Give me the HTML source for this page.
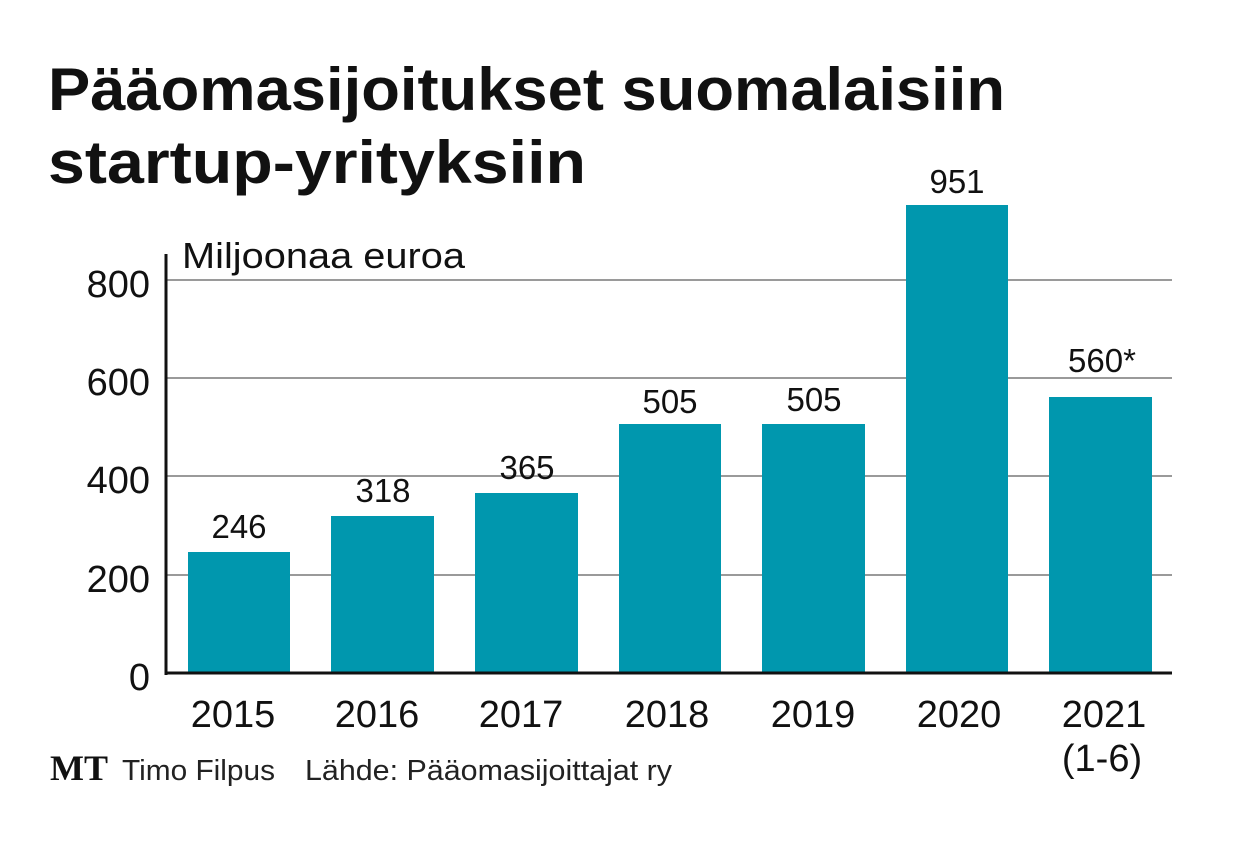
<!DOCTYPE html>
<html><head><meta charset="utf-8"><style>html,body{margin:0;padding:0;background:#fff}svg{display:block}</style></head>
<body>
<svg width="1240" height="854" viewBox="0 0 1240 854" xmlns="http://www.w3.org/2000/svg" font-family="Liberation Sans, DejaVu Sans, sans-serif">
<rect width="1240" height="854" fill="#fff"/>
<text x="48" y="110" font-size="60" font-weight="bold" fill="#111" textLength="957" lengthAdjust="spacingAndGlyphs">Pääomasijoitukset suomalaisiin</text>
<text x="48" y="183" font-size="60" font-weight="bold" fill="#111" textLength="538" lengthAdjust="spacingAndGlyphs">startup-yrityksiin</text>
<g stroke="#9a9a9a" stroke-width="2">
<line x1="166" y1="280" x2="1172" y2="280"/>
<line x1="166" y1="378" x2="1172" y2="378"/>
<line x1="166" y1="476" x2="1172" y2="476"/>
<line x1="166" y1="575" x2="1172" y2="575"/>
</g>
<rect x="166" y="236" width="310" height="38" fill="#fff"/>
<text x="182" y="268" font-size="36" fill="#111" textLength="283" lengthAdjust="spacingAndGlyphs">Miljoonaa euroa</text>
<g fill="#0097ae">
<rect x="188" y="552" width="102" height="121"/>
<rect x="331" y="516" width="103" height="157"/>
<rect x="475" y="493" width="103" height="180"/>
<rect x="619" y="424" width="102" height="249"/>
<rect x="762" y="424" width="103" height="249"/>
<rect x="906" y="205" width="102" height="468"/>
<rect x="1049" y="397" width="103" height="276"/>
</g>
<line x1="166" y1="254" x2="166" y2="675" stroke="#111" stroke-width="3"/>
<line x1="165" y1="673" x2="1172" y2="673" stroke="#111" stroke-width="3"/>
<g font-size="38" fill="#111" text-anchor="end">
<text x="150" y="297">800</text>
<text x="150" y="395">600</text>
<text x="150" y="493">400</text>
<text x="150" y="592">200</text>
<text x="150" y="690">0</text>
</g>
<g font-size="33" fill="#111" text-anchor="middle">
<text x="239" y="538">246</text>
<text x="383" y="502">318</text>
<text x="527" y="479">365</text>
<text x="670" y="413">505</text>
<text x="814" y="411">505</text>
<text x="957" y="193">951</text>
<text x="1102" y="372">560*</text>
</g>
<g font-size="38" fill="#111" text-anchor="middle">
<text x="233" y="727">2015</text>
<text x="377" y="727">2016</text>
<text x="521" y="727">2017</text>
<text x="667" y="727">2018</text>
<text x="813" y="727">2019</text>
<text x="959" y="727">2020</text>
<text x="1104" y="727">2021</text>
<text x="1102" y="771">(1-6)</text>
</g>
<text x="50" y="780" font-family="Liberation Serif, serif" font-weight="bold" font-size="36" fill="#111">MT</text>
<text x="122" y="780" font-size="29" fill="#222" textLength="153" lengthAdjust="spacingAndGlyphs">Timo Filpus</text>
<text x="305" y="780" font-size="29" fill="#222" textLength="367" lengthAdjust="spacingAndGlyphs">Lähde: Pääomasijoittajat ry</text>
</svg>
</body></html>
